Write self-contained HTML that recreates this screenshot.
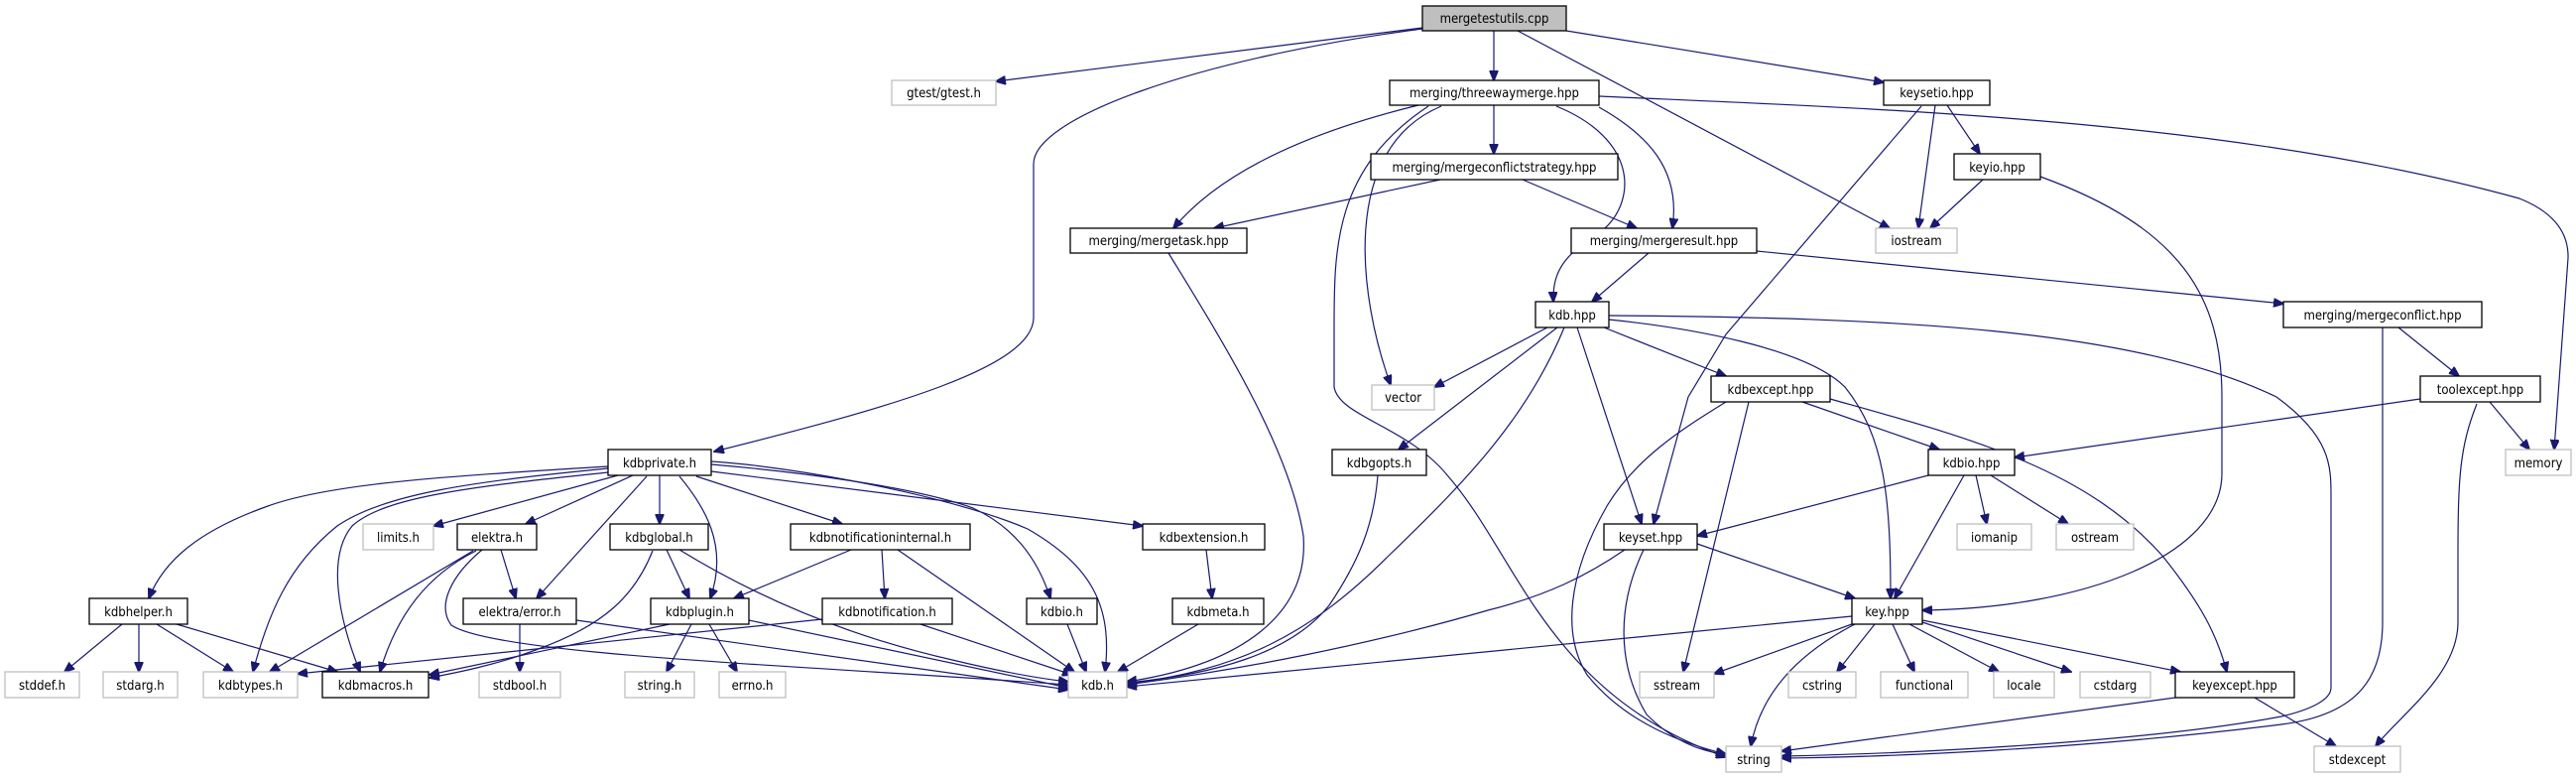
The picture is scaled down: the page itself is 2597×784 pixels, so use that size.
<!DOCTYPE html>
<html><head><meta charset="utf-8"><style>
html,body{margin:0;padding:0;background:#fff;}
svg{display:block;}
text{font-family:"DejaVu Sans Condensed","Liberation Sans Narrow","Liberation Sans",sans-serif;font-size:13px;fill:#000;text-anchor:middle;}
.b{fill:#fff;stroke:#000;stroke-width:1.3;}
.g{fill:#fff;stroke:#bfbfbf;stroke-width:1.3;}
.f{fill:#bfbfbf;stroke:#000;stroke-width:1.3;}
path{fill:none;stroke:#191970;stroke-width:1.2;marker-end:url(#a);}
</style></head><body>
<svg width="2597" height="784" viewBox="0 0 2597 784" xmlns="http://www.w3.org/2000/svg">
<defs><marker id="a" markerUnits="userSpaceOnUse" markerWidth="11" markerHeight="9" refX="10" refY="4.5" orient="auto"><polygon points="0,0 11,4.5 0,9" fill="#191970" stroke="#191970"/></marker></defs>
<g>
<path d="M1434,28 L1004,82"/>
<path d="M1434,29 C1200,60 1042,120 1042,165 L1042,320 C1042,370 900,410 720,455"/>
<path d="M1506,31 L1506,81"/>
<path d="M1530,31 L1905,230"/>
<path d="M1579,31 L1899,83"/>
<path d="M1506,106 L1506,155"/>
<path d="M1430,106 Q1250,150 1183,230"/>
<path d="M1453,107 C1350,150 1370,300 1402,388"/>
<path d="M1440,107 C1345,170 1345,250 1345,330 L1345,390 C1350,420 1420,430 1460,480 C1530,560 1560,700 1740,763"/>
<path d="M1569,107 C1650,140 1650,200 1618,230 C1580,255 1565,270 1566,304"/>
<path d="M1612,108 C1660,135 1695,170 1686,230"/>
<path d="M1612,97 C1900,110 2250,120 2540,200 Q2590,220 2589,260 L2575,453"/>
<path d="M1452,181 L1224,230"/>
<path d="M1535,181 L1650,230"/>
<path d="M1178,255 C1230,340 1300,450 1314,540 C1320,620 1250,670 1136,687"/>
<path d="M1662,255 L1605,304"/>
<path d="M1771,253 L2302,306"/>
<path d="M1963,106 L1996,155"/>
<path d="M1951,106 L1934,230"/>
<path d="M1937,107 L1740,337 L1702,400 L1667,528"/>
<path d="M1999,181 L1946,230"/>
<path d="M2057,178 C2200,230 2240,300 2240,400 L2240,477 C2240,560 2100,613 1938,615"/>
<path d="M2418,330 L2479,379"/>
<path d="M2402,330 L2402,627 C2402,680 2380,720 2300,730 C2100,755 1900,763 1796,764"/>
<path d="M2440,402 L2031,461"/>
<path d="M2510,405 L2550,453"/>
<path d="M2497,407 C2480,450 2478,480 2478,560 L2478,627 C2478,680 2420,720 2395,752"/>
<path d="M1560,330 L1446,390"/>
<path d="M1570,330 L1410,453"/>
<path d="M1577,330 C1540,420 1480,483 1400,560 C1320,640 1250,675 1136,689"/>
<path d="M1590,330 L1655,528"/>
<path d="M1617,330 L1740,379"/>
<path d="M1622,322 C1700,330 1820,350 1860,390 C1900,440 1906,500 1906,603"/>
<path d="M1622,318 C1900,320 2150,330 2295,400 C2350,440 2350,470 2350,500 L2350,693 C2350,705 2330,715 2300,722 C2150,750 1900,760 1796,762"/>
<path d="M1817,405 L1955,453"/>
<path d="M1845,402 C1980,440 2100,470 2180,560 C2220,610 2235,640 2245,677"/>
<path d="M1763,405 L1697,677"/>
<path d="M1740,405 C1700,430 1650,460 1620,510 C1580,580 1575,640 1600,680 C1640,730 1700,750 1740,760"/>
<path d="M1944,479 L1711,540"/>
<path d="M1980,479 L1910,603"/>
<path d="M1992,479 L2003,528"/>
<path d="M2007,479 L2085,528"/>
<path d="M1638,554 C1600,580 1560,600 1500,615 C1380,650 1250,675 1136,690"/>
<path d="M1711,548 L1870,603"/>
<path d="M1657,554 C1630,610 1630,670 1660,720 C1690,750 1720,758 1740,760"/>
<path d="M1867,621 L1136,692"/>
<path d="M1867,629 L1728,679"/>
<path d="M1870,629 C1810,660 1775,700 1765,752"/>
<path d="M1890,629 L1852,677"/>
<path d="M1908,629 L1930,677"/>
<path d="M1925,629 L2015,677"/>
<path d="M1938,627 L2088,677"/>
<path d="M1938,625 L2198,677"/>
<path d="M2193,703 L1796,757"/>
<path d="M2273,703 L2355,752"/>
<path d="M613,470 C450,480 333,487 270,510 C200,535 165,565 150,603"/>
<path d="M623,479 L437,530"/>
<path d="M638,479 L530,528"/>
<path d="M665,479 L665,528"/>
<path d="M613,472 C480,485 388,497 340,530 C290,570 270,620 255,677"/>
<path d="M613,476 C480,490 388,500 355,530 C330,560 340,620 363,677"/>
<path d="M652,480 L541,603"/>
<path d="M685,480 C710,510 735,550 716,603"/>
<path d="M702,480 L849,528"/>
<path d="M717,468 C800,475 920,490 981,512 C1020,530 1045,560 1059,603"/>
<path d="M717,465 C800,470 960,500 1036,533 C1100,570 1122,610 1114,677"/>
<path d="M717,475 L1152,530"/>
<path d="M505,554 L520,603"/>
<path d="M477,555 L272,677"/>
<path d="M480,555 C430,580 400,620 383,677"/>
<path d="M486,554 C455,580 440,610 455,630 C500,660 800,670 1077,690"/>
<path d="M672,554 L695,603"/>
<path d="M658,555 C640,600 610,630 540,655 C500,670 460,678 433,683"/>
<path d="M685,554 C760,600 850,640 960,665 C1010,677 1050,684 1077,687"/>
<path d="M858,554 L740,603"/>
<path d="M889,554 L892,603"/>
<path d="M905,554 L1083,677"/>
<path d="M1216,554 L1222,603"/>
<path d="M123,629 L65,677"/>
<path d="M140,629 L140,677"/>
<path d="M158,629 L235,677"/>
<path d="M178,629 L340,677"/>
<path d="M524,629 L524,677"/>
<path d="M581,625 L1077,695"/>
<path d="M675,629 L433,680"/>
<path d="M697,629 L672,677"/>
<path d="M715,629 L743,677"/>
<path d="M755,625 L1077,693"/>
<path d="M829,624 L300,679"/>
<path d="M928,629 L1081,680"/>
<path d="M1076,629 L1095,677"/>
<path d="M1208,629 L1127,677"/>
<path d="M1389,479 C1385,530 1369,567 1340,610 C1300,660 1220,680 1136,688"/>
</g>
<g>
<rect class="f" x="1434" y="6" width="145" height="25"/><text x="1506.5" y="23">mergetestutils.cpp</text>
<rect class="g" x="899" y="81" width="105" height="25"/><text x="951.5" y="98">gtest/gtest.h</text>
<rect class="b" x="1401" y="81" width="211" height="25"/><text x="1506.5" y="98">merging/threewaymerge.hpp</text>
<rect class="b" x="1899" y="81" width="107" height="25"/><text x="1952.5" y="98">keysetio.hpp</text>
<rect class="b" x="1382" y="155" width="249" height="26"/><text x="1506.5" y="173">merging/mergeconflictstrategy.hpp</text>
<rect class="b" x="1970" y="155" width="87" height="26"/><text x="2013.5" y="173">keyio.hpp</text>
<rect class="b" x="1079" y="230" width="178" height="25"/><text x="1168" y="247">merging/mergetask.hpp</text>
<rect class="b" x="1584" y="230" width="187" height="25"/><text x="1677.5" y="247">merging/mergeresult.hpp</text>
<rect class="g" x="1891" y="230" width="82" height="25"/><text x="1932" y="247">iostream</text>
<rect class="b" x="1548" y="304" width="74" height="26"/><text x="1585" y="322">kdb.hpp</text>
<rect class="b" x="2302" y="304" width="200" height="26"/><text x="2402" y="322">merging/mergeconflict.hpp</text>
<rect class="g" x="1383" y="388" width="63" height="25"/><text x="1414.5" y="405">vector</text>
<rect class="b" x="1725" y="379" width="120" height="26"/><text x="1785" y="397">kdbexcept.hpp</text>
<rect class="b" x="2440" y="379" width="121" height="26"/><text x="2500.5" y="397">toolexcept.hpp</text>
<rect class="b" x="613" y="453" width="104" height="26"/><text x="665" y="471">kdbprivate.h</text>
<rect class="b" x="1343" y="453" width="95" height="26"/><text x="1390.5" y="471">kdbgopts.h</text>
<rect class="b" x="1944" y="453" width="87" height="26"/><text x="1987.5" y="471">kdbio.hpp</text>
<rect class="g" x="2526" y="453" width="66" height="26"/><text x="2559" y="471">memory</text>
<rect class="g" x="366" y="528" width="71" height="26"/><text x="401.5" y="546">limits.h</text>
<rect class="b" x="461" y="528" width="80" height="26"/><text x="501" y="546">elektra.h</text>
<rect class="b" x="615" y="528" width="99" height="26"/><text x="664.5" y="546">kdbglobal.h</text>
<rect class="b" x="797" y="528" width="181" height="26"/><text x="887.5" y="546">kdbnotificationinternal.h</text>
<rect class="b" x="1152" y="528" width="123" height="26"/><text x="1213.5" y="546">kdbextension.h</text>
<rect class="b" x="1617" y="528" width="94" height="26"/><text x="1664" y="546">keyset.hpp</text>
<rect class="g" x="1973" y="528" width="75" height="26"/><text x="2010.5" y="546">iomanip</text>
<rect class="g" x="2073" y="528" width="78" height="26"/><text x="2112" y="546">ostream</text>
<rect class="b" x="90" y="603" width="99" height="26"/><text x="139.5" y="621">kdbhelper.h</text>
<rect class="b" x="467" y="603" width="114" height="26"/><text x="524" y="621">elektra/error.h</text>
<rect class="b" x="656" y="603" width="99" height="26"/><text x="705.5" y="621">kdbplugin.h</text>
<rect class="b" x="829" y="603" width="131" height="26"/><text x="894.5" y="621">kdbnotification.h</text>
<rect class="b" x="1035" y="603" width="71" height="26"/><text x="1070.5" y="621">kdbio.h</text>
<rect class="b" x="1182" y="603" width="92" height="26"/><text x="1228" y="621">kdbmeta.h</text>
<rect class="b" x="1867" y="603" width="71" height="26"/><text x="1902.5" y="621">key.hpp</text>
<rect class="g" x="5" y="677" width="75" height="26"/><text x="42.5" y="695">stddef.h</text>
<rect class="g" x="104" y="677" width="75" height="26"/><text x="141.5" y="695">stdarg.h</text>
<rect class="g" x="205" y="677" width="95" height="26"/><text x="252.5" y="695">kdbtypes.h</text>
<rect class="b" x="325" y="677" width="107" height="26"/><text x="378.5" y="695">kdbmacros.h</text>
<rect class="g" x="483" y="677" width="82" height="26"/><text x="524" y="695">stdbool.h</text>
<rect class="g" x="630" y="677" width="70" height="26"/><text x="665" y="695">string.h</text>
<rect class="g" x="725" y="677" width="67" height="26"/><text x="758.5" y="695">errno.h</text>
<rect class="g" x="1077" y="677" width="59" height="26"/><text x="1106.5" y="695">kdb.h</text>
<rect class="g" x="1653" y="677" width="75" height="26"/><text x="1690.5" y="695">sstream</text>
<rect class="g" x="1803" y="677" width="68" height="26"/><text x="1837" y="695">cstring</text>
<rect class="g" x="1896" y="677" width="88" height="26"/><text x="1940" y="695">functional</text>
<rect class="g" x="2010" y="677" width="61" height="26"/><text x="2040.5" y="695">locale</text>
<rect class="g" x="2097" y="677" width="71" height="26"/><text x="2132.5" y="695">cstdarg</text>
<rect class="b" x="2193" y="677" width="120" height="26"/><text x="2253" y="695">keyexcept.hpp</text>
<rect class="g" x="1740" y="752" width="56" height="26"/><text x="1768" y="770">string</text>
<rect class="g" x="2333" y="752" width="87" height="26"/><text x="2376.5" y="770">stdexcept</text>
</g>
</svg>
</body></html>
